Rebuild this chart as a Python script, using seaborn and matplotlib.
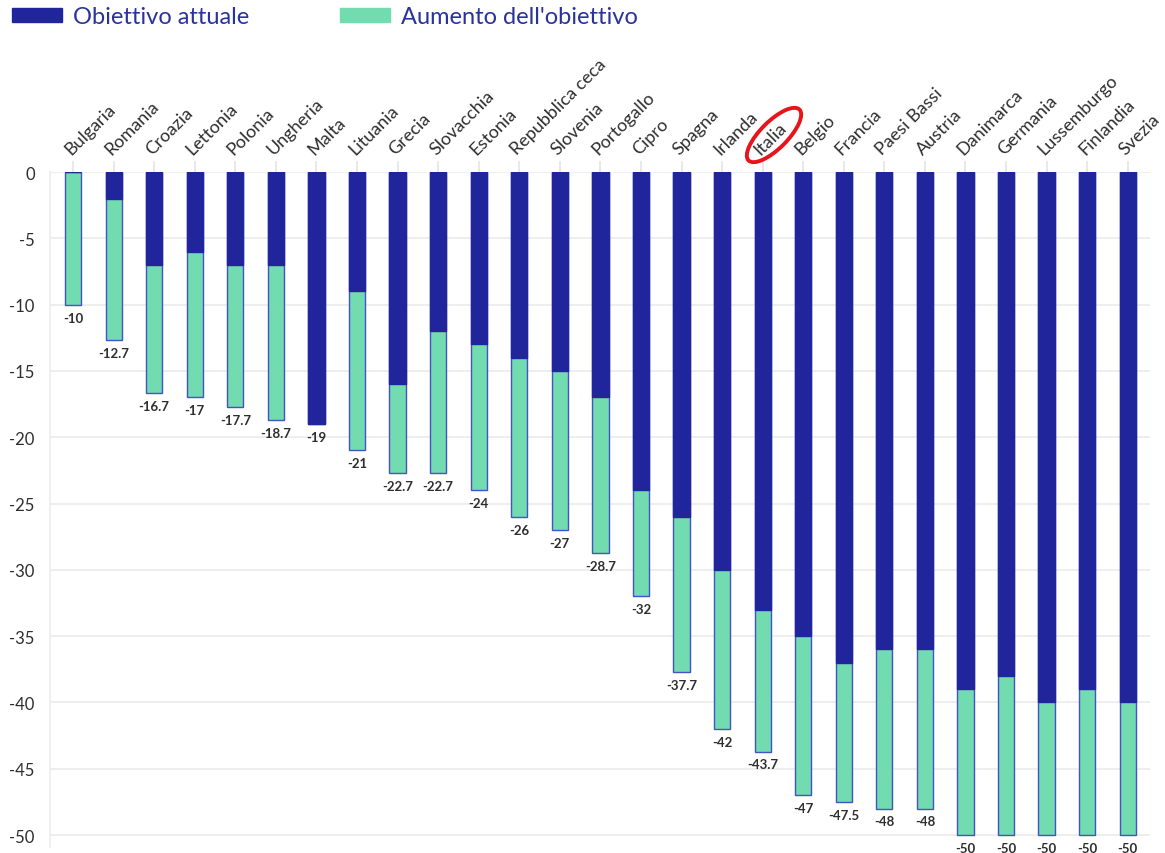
import matplotlib
matplotlib.use("Agg")
import matplotlib.pyplot as plt
import seaborn as sns
import pandas as pd
from matplotlib.patches import Patch, Ellipse

countries = ["Bulgaria", "Romania", "Croazia", "Lettonia", "Polonia", "Ungheria", "Malta",
             "Lituania", "Grecia", "Slovacchia", "Estonia", "Repubblica ceca", "Slovenia",
             "Portogallo", "Cipro", "Spagna", "Irlanda", "Italia", "Belgio", "Francia",
             "Paesi Bassi", "Austria", "Danimarca", "Germania", "Lussemburgo", "Finlandia", "Svezia"]
current_target = [0, -2, -7, -6, -7, -7, -19, -9, -16, -12, -13, -14, -15, -17, -24, -26,
                  -30, -33, -35, -37, -36, -36, -39, -38, -40, -39, -40]
new_target = [-10, -12.7, -16.7, -17, -17.7, -18.7, -19, -21, -22.7, -22.7, -24, -26, -27,
              -28.7, -32, -37.7, -42, -43.7, -47, -47.5, -48, -48, -50, -50, -50, -50, -50]
total_labels = ["-10", "-12.7", "-16.7", "-17", "-17.7", "-18.7", "-19", "-21", "-22.7", "-22.7",
                "-24", "-26", "-27", "-28.7", "-32", "-37.7", "-42", "-43.7", "-47", "-47.5",
                "-48", "-48", "-50", "-50", "-50", "-50", "-50"]
yticks = [0, -5, -10, -15, -20, -25, -30, -35, -40, -45, -50]
legend_labels = ["Obiettivo attuale", "Aumento dell'obiettivo"]

BLUE = "#21259b"
GREEN = "#72dbb0"
EDGE = "#4153c8"
TEXT = "#2e2e2e"
LEG_TEXT = "#2a339c"

df = pd.DataFrame({"paese": countries, "attuale": current_target, "nuovo": new_target})

sns.set_theme(style="white")
plt.rcParams["font.family"] = ["Lato", "DejaVu Sans"]

fig = plt.figure(figsize=(11.65, 8.54), dpi=100)
ax = fig.add_axes([50 / 1165, 1 - 848 / 854, 1100 / 1165, (848 - 173) / 854])

sns.barplot(data=df, x="paese", y="nuovo", order=countries, color=GREEN, width=0.4,
            edgecolor=EDGE, linewidth=1, saturation=1, ax=ax, errorbar=None)
sns.barplot(data=df, x="paese", y="attuale", order=countries, color=BLUE, width=0.4,
            edgecolor=BLUE, linewidth=1, saturation=1, ax=ax, errorbar=None)

for i, (v, lab) in enumerate(zip(new_target, total_labels)):
    ax.annotate(lab, (i, v), xytext=(0, -5), textcoords="offset points", ha="center", va="top",
                fontsize=9.5, fontweight="bold", color=TEXT, annotation_clip=False)

ax.set_ylim(-50.9, 0)
ax.set_xlim(-0.57, 26.55)
ax.set_yticks(yticks)
ax.set_yticklabels([str(t) for t in yticks], fontsize=12, color=TEXT)
ax.yaxis.grid(True, color="#ebebeb", linewidth=1.2)
ax.set_axisbelow(True)
ax.xaxis.tick_top()
ax.set_xticks(range(len(countries)))
ax.set_xticklabels(countries, rotation=45, ha="left", rotation_mode="anchor", fontsize=13, color=TEXT)
ax.tick_params(axis="x", length=8, color="#e6e6e6", pad=3)
ax.tick_params(axis="y", length=7, color="#e6e6e6", pad=4)
ax.set_xlabel("")
ax.set_ylabel("")
for s in ["top", "right", "bottom"]:
    ax.spines[s].set_visible(False)
ax.spines["left"].set_color("#ececec")
ax.spines["left"].set_linewidth(1.2)

# hand-drawn style red circle around "Italia"
fig.patches.append(Ellipse((774 / 100, (854 - 136) / 100), 0.72, 0.27, angle=45,
                           transform=fig.dpi_scale_trans, fill=False, edgecolor="#e8141b",
                           linewidth=2.8))

handles = [Patch(facecolor=BLUE, edgecolor=BLUE), Patch(facecolor=GREEN, edgecolor=GREEN)]
leg = fig.legend(handles, legend_labels, loc="center left", bbox_to_anchor=(12 / 1165, 1 - 18 / 854),
                 ncol=2, frameon=False, fontsize=17, handlelength=2.12, handleheight=0.5,
                 handletextpad=0.45, columnspacing=3.85, borderpad=0, borderaxespad=0)
for t in leg.get_texts():
    t.set_color(LEG_TEXT)

fig.savefig("out.png", dpi=100)
